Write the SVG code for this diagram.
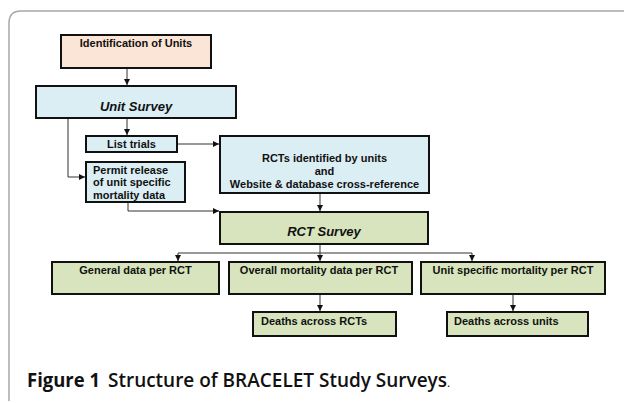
<svg xmlns="http://www.w3.org/2000/svg" width="624" height="403" viewBox="0 0 624 403">
<style>
.box{stroke:#111;stroke-width:2}
.peach{fill:#fbe5d6}
.blue{fill:#dbeef4}
.green{fill:#d7e4bd}
.t{font-family:"Liberation Sans",Arial,sans-serif;font-weight:bold;font-size:11px;fill:#111}
.ti{font-family:"Liberation Sans",Arial,sans-serif;font-weight:bold;font-style:italic;font-size:13px;fill:#111}
.c{text-anchor:middle}
.conn{fill:none;stroke:#333;stroke-width:1}
.cap{font-family:"Open Sans","Noto Sans",sans-serif;fill:#111}
</style>
<defs>
<marker id="ah" viewBox="0 0 6 6" refX="6" refY="3" markerWidth="6" markerHeight="6" markerUnits="userSpaceOnUse" orient="auto">
<path d="M0,0 L6,3 L0,6 Z" fill="#111"/>
</marker>
</defs>
<path d="M9,401 V23 Q9,11 21,11 H624" fill="none" stroke="#a8a8a8" stroke-width="1.5"/>
<g id="connectors">
<path class="conn" d="M127,69 V85" marker-end="url(#ah)"/>
<path class="conn" d="M127,119 V135" marker-end="url(#ah)"/>
<path class="conn" d="M68,119 V177 H85" marker-end="url(#ah)"/>
<path class="conn" d="M178,144 H219" marker-end="url(#ah)"/>
<path class="conn" d="M128,203 V211 H219" marker-end="url(#ah)"/>
<path class="conn" d="M320,194 V211" marker-end="url(#ah)"/>
<path class="conn" d="M320,245 V253"/>
<path class="conn" d="M178,253 H472"/>
<path class="conn" d="M178,253 V261" marker-end="url(#ah)"/>
<path class="conn" d="M320,253 V261" marker-end="url(#ah)"/>
<path class="conn" d="M472,253 V261" marker-end="url(#ah)"/>
<path class="conn" d="M320,295 V311" marker-end="url(#ah)"/>
<path class="conn" d="M513,295 V311" marker-end="url(#ah)"/>
</g>
<g id="identification">
<rect class="box peach" x="61" y="35" width="150" height="33"/>
<text class="t c" x="136" y="47">Identification of Units</text>
</g>
<g id="unit-survey">
<rect class="box blue" x="36" y="86" width="200" height="32"/>
<text class="ti c" x="136" y="111">Unit Survey</text>
</g>
<g id="list-trials">
<rect class="box blue" x="86" y="136" width="91" height="16"/>
<text class="t c" x="131.5" y="148">List trials</text>
</g>
<g id="permit">
<rect class="box blue" x="86" y="162" width="99" height="40"/>
<text class="t" x="93" y="173.5">Permit release</text>
<text class="t" x="93" y="186.3">of unit specific</text>
<text class="t" x="93" y="199">mortality data</text>
</g>
<g id="rcts-identified">
<rect class="box blue" x="220" y="136" width="209" height="57"/>
<text class="t c" x="324.5" y="161.5">RCTs identified by units</text>
<text class="t c" x="324.5" y="174.5">and</text>
<text class="t c" x="324.5" y="187.5">Website &amp; database cross-reference</text>
</g>
<g id="rct-survey">
<rect class="box green" x="220" y="212" width="208" height="32"/>
<text class="ti c" x="324" y="236">RCT Survey</text>
</g>
<g id="general">
<rect class="box green" x="52" y="262" width="167" height="32"/>
<text class="t c" x="135.5" y="274">General data per RCT</text>
</g>
<g id="overall">
<rect class="box green" x="229" y="262" width="183" height="32"/>
<text class="t c" x="319" y="274">Overall mortality data per RCT</text>
</g>
<g id="unit-specific">
<rect class="box green" x="421" y="262" width="184" height="32"/>
<text class="t c" x="513" y="274">Unit specific mortality per RCT</text>
</g>
<g id="deaths-rcts">
<rect class="box green" x="253" y="312" width="143" height="24"/>
<text class="t" x="261" y="324.5">Deaths across RCTs</text>
</g>
<g id="deaths-units">
<rect class="box green" x="447" y="312" width="141" height="24"/>
<text class="t" x="454" y="324.5">Deaths across units</text>
</g>
<g id="caption">
<text class="cap" x="27" y="387" font-size="19" font-weight="bold" textLength="73" lengthAdjust="spacingAndGlyphs">Figure 1</text>
<text class="cap" x="108" y="387" font-size="19" font-weight="600" textLength="339" lengthAdjust="spacingAndGlyphs">Structure of BRACELET Study Surveys</text>
<text class="cap" x="447" y="387" font-size="12">.</text>
</g>
</svg>
